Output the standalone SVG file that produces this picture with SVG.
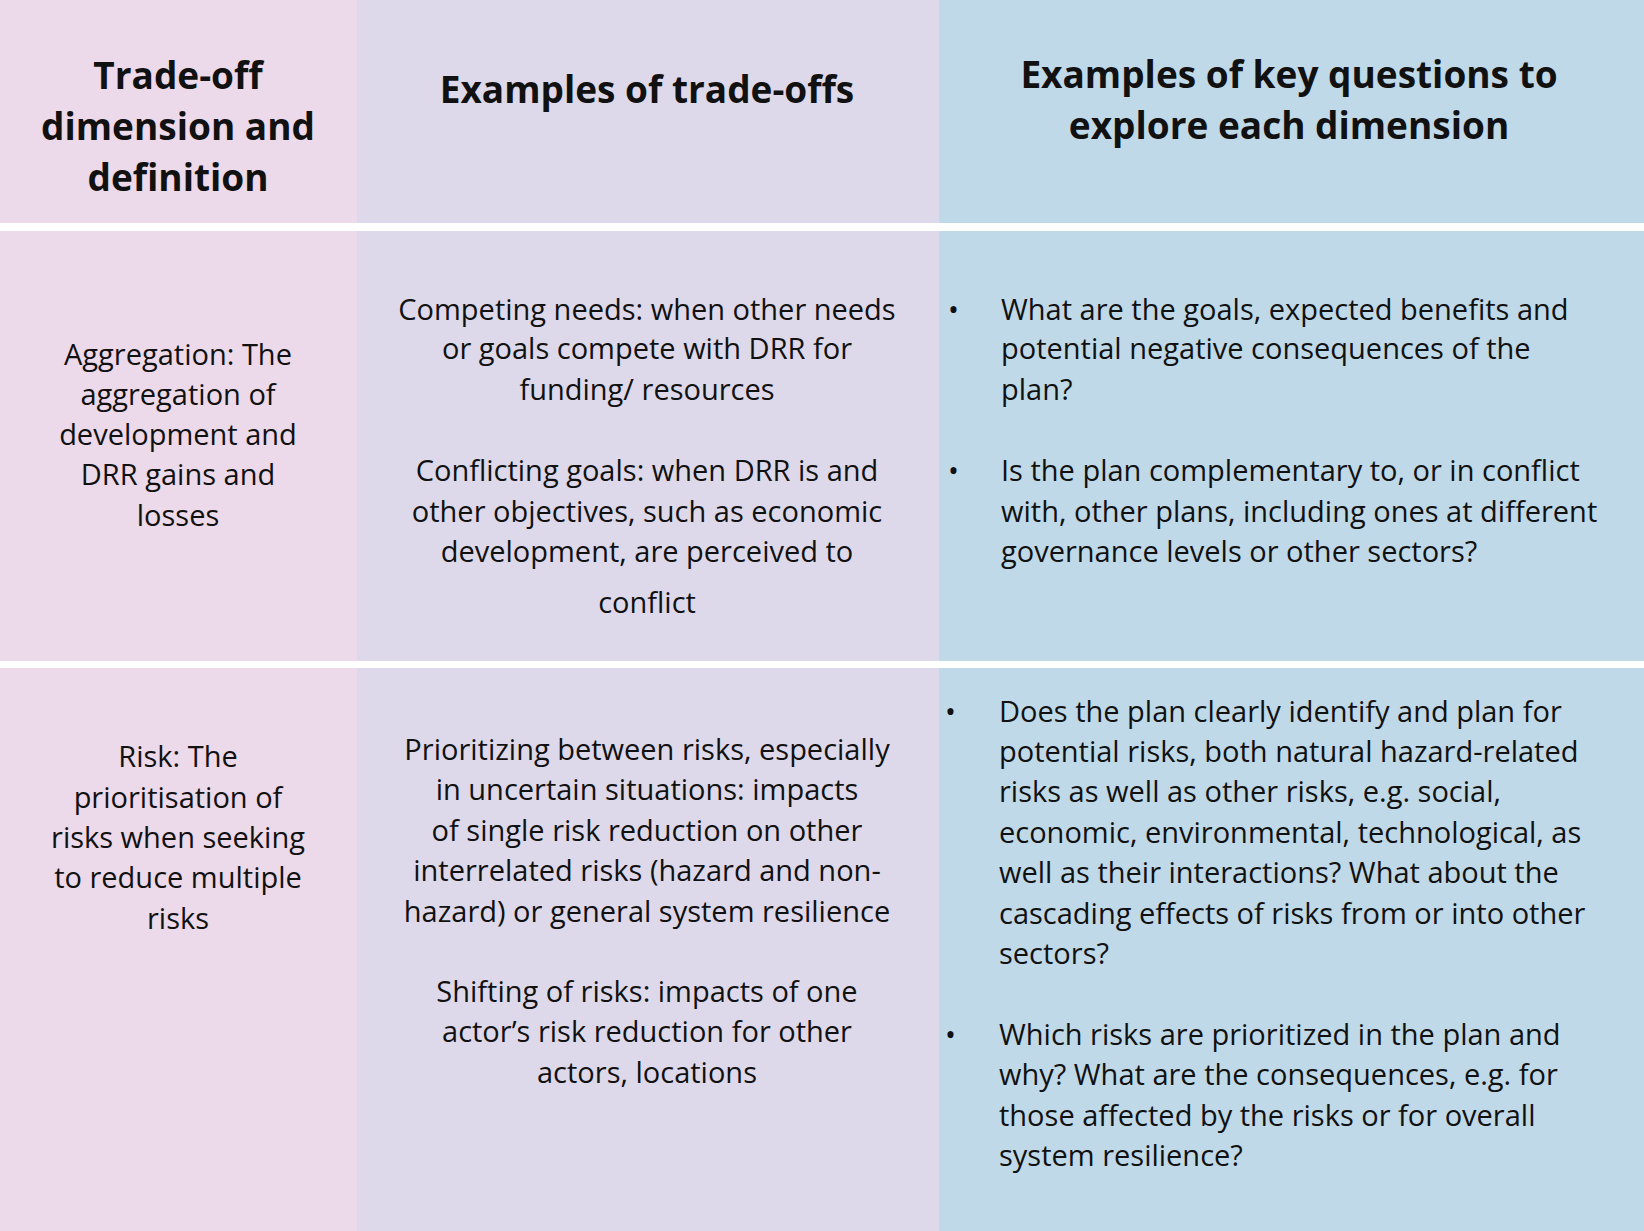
<svg xmlns="http://www.w3.org/2000/svg" width="1644" height="1231" viewBox="0 0 1644 1231">
<style>
.h{font-family:"Open Sans",sans-serif;font-weight:bold;font-size:37px;fill:#111;text-anchor:middle}
.t{font-family:"Open Sans",sans-serif;font-size:29px;fill:#111}
.c{text-anchor:middle}
</style>
<rect width="1644" height="1231" fill="#fff"/>
<g id="header">
<rect x="0" y="0" width="357" height="223" fill="#ecd9e9"/>
<rect x="357" y="0" width="582" height="223" fill="#ddd9ea"/>
<rect x="939" y="0" width="705" height="223" fill="#c0d9e8"/>
<text class="h" x="178" y="89">Trade-off</text>
<text class="h" x="178" y="140">dimension and</text>
<text class="h" x="178" y="191">definition</text>
<text class="h" x="647" y="103">Examples of trade-offs</text>
<text class="h" x="1289" y="88">Examples of key questions to</text>
<text class="h" x="1289" y="139">explore each dimension</text>
</g>
<g id="row1">
<rect x="0" y="231" width="357" height="430" fill="#ecd9e9"/>
<rect x="357" y="231" width="582" height="430" fill="#ddd9ea"/>
<rect x="939" y="231" width="705" height="430" fill="#c0d9e8"/>
<g class="t c">
<text x="178" y="365">Aggregation: The</text>
<text x="178" y="405">aggregation of</text>
<text x="178" y="445">development and</text>
<text x="178" y="485">DRR gains and</text>
<text x="178" y="526">losses</text>
<text x="647" y="320">Competing needs: when other needs</text>
<text x="647" y="359">or goals compete with DRR for</text>
<text x="647" y="400">funding/ resources</text>
<text x="647" y="481">Conflicting goals: when DRR is and</text>
<text x="647" y="522">other objectives, such as economic</text>
<text x="647" y="562">development, are perceived to</text>
<text x="647" y="613">conflict</text>
</g>
<g class="t">
<text x="948" y="320">•</text>
<text x="1001" y="320">What are the goals, expected benefits and</text>
<text x="1001" y="359">potential negative consequences of the</text>
<text x="1001" y="400">plan?</text>
<text x="948" y="481">•</text>
<text x="1001" y="481">Is the plan complementary to, or in conflict</text>
<text x="1001" y="522">with, other plans, including ones at different</text>
<text x="1001" y="562">governance levels or other sectors?</text>
</g>
</g>
<g id="row2">
<rect x="0" y="668" width="357" height="563" fill="#ecd9e9"/>
<rect x="357" y="668" width="582" height="563" fill="#ddd9ea"/>
<rect x="939" y="668" width="705" height="563" fill="#c0d9e8"/>
<g class="t c">
<text x="178" y="767">Risk: The</text>
<text x="178" y="808">prioritisation of</text>
<text x="178" y="848">risks when seeking</text>
<text x="178" y="888">to reduce multiple</text>
<text x="178" y="929">risks</text>
<text x="647" y="760">Prioritizing between risks, especially</text>
<text x="647" y="800">in uncertain situations: impacts</text>
<text x="647" y="841">of single risk reduction on other</text>
<text x="647" y="881">interrelated risks (hazard and non-</text>
<text x="647" y="922">hazard) or general system resilience</text>
<text x="647" y="1002">Shifting of risks: impacts of one</text>
<text x="647" y="1042">actor’s risk reduction for other</text>
<text x="647" y="1083">actors, locations</text>
</g>
<g class="t">
<text x="945" y="722">•</text>
<text x="999" y="722">Does the plan clearly identify and plan for</text>
<text x="999" y="762">potential risks, both natural hazard-related</text>
<text x="999" y="802">risks as well as other risks, e.g. social,</text>
<text x="999" y="843">economic, environmental, technological, as</text>
<text x="999" y="883">well as their interactions? What about the</text>
<text x="999" y="924">cascading effects of risks from or into other</text>
<text x="999" y="964">sectors?</text>
<text x="945" y="1045">•</text>
<text x="999" y="1045">Which risks are prioritized in the plan and</text>
<text x="999" y="1085">why? What are the consequences, e.g. for</text>
<text x="999" y="1126">those affected by the risks or for overall</text>
<text x="999" y="1166">system resilience?</text>
</g>
</g>
</svg>
